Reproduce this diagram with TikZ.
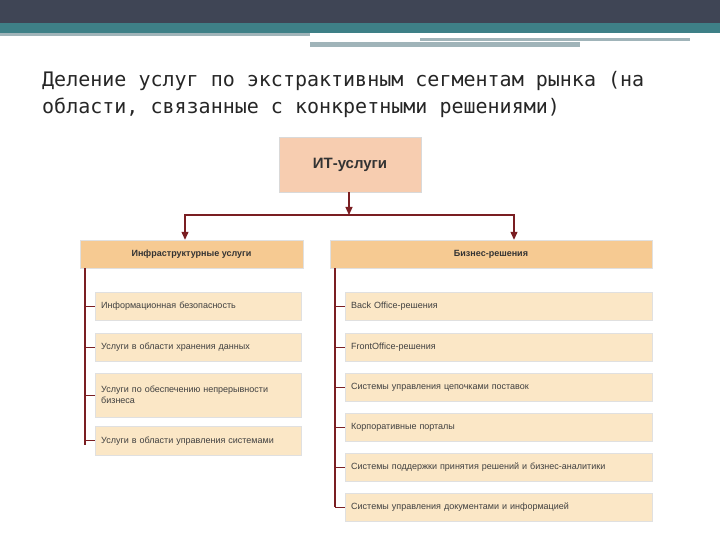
\documentclass[tikz,border=0pt]{standalone}
\usepackage{fontspec}
\setmainfont{DejaVu Sans}
\newfontfamily\titlefont{DejaVu Sans Mono}
\newfontfamily\boxfont{Liberation Sans}
\usetikzlibrary{arrows.meta}
\definecolor{lnc}{HTML}{7A1E22}
\definecolor{topc}{HTML}{F7CDB0}
\definecolor{hdc}{HTML}{F6CA92}
\definecolor{itc}{HTML}{FBE7C6}
\definecolor{barc}{HTML}{3F4555}
\definecolor{tealc}{HTML}{3E8087}
\definecolor{greyc}{HTML}{A0B4B9}
\tikzset{
  px/.style={x=1pt,y=-1pt},
  conn/.style={draw=lnc,line width=1.2pt},
  arr/.style={conn,-{Triangle[length=8pt,width=7pt]}},
  item/.style={fill=itc,draw=black!12,anchor=north west,inner xsep=6pt,align=left,font=\boxfont\fontsize{9}{11}\selectfont,text=black!75},
  litem/.style={item,text width=194pt},
  ritem/.style={item,text width=295pt,minimum height=28pt},
}
\begin{document}
\begin{tikzpicture}[px]
\useasboundingbox (0,0) rectangle (720,540);
\fill[white] (0,0) rectangle (720,540);
\fill[barc] (0,0) rectangle (720,23);
\fill[tealc] (0,23) rectangle (720,33);
\fill[greyc] (0,33) rectangle (310,36);
\fill[greyc] (310,42) rectangle (580,47);
\fill[greyc] (420,38) rectangle (690,41);
\node[anchor=west,font=\titlefont\fontsize{20}{27}\selectfont,text=black!85,align=left,inner sep=0] (title) at (42,94) {Деление услуг по экстрактивным сегментам рынка (на\\области, связанные с конкретными решениями)};
\node[fill=topc,draw=black!15,minimum width=142pt,minimum height=55pt,font=\boxfont\bfseries\fontsize{15}{18}\selectfont,text=black!80] (top) at (350,164.5) {ИТ-услуги};
\node[fill=hdc,draw=black!12,minimum width=223pt,minimum height=28pt,font=\boxfont\bfseries\fontsize{9}{11}\selectfont,text=black!80] (h1) at (191.5,254) {Инфраструктурные услуги};
\node[fill=hdc,draw=black!12,minimum width=322pt,minimum height=28pt,font=\boxfont\bfseries\fontsize{9}{11}\selectfont,text=black!80] (h2) at (491,254) {Бизнес-решения};
\coordinate (j) at (349,215);
\coordinate (ja) at (185,215);
\coordinate (jb) at (514,215);
\draw[arr] (top.south -| j) -- (j);
\draw[arr] (j) -- (ja) -- (ja |- h1.north);
\draw[arr] (j) -- (jb) -- (jb |- h2.north);
\node[litem,minimum height=28pt] (l1) at (95,292) {Информационная безопасность};
\node[litem,minimum height=28pt] (l2) at (95,333) {Услуги в области хранения данных};
\node[litem,minimum height=44pt] (l3) at (95,373) {Услуги по обеспечению непрерывности\\бизнеса};
\node[litem,minimum height=29pt] (l4) at (95,426) {Услуги в области управления системами};
\coordinate (ls) at (85,268);
\coordinate (le) at (85,445);
\draw[conn] (ls) -- (le);
\foreach \n in {l1,l2,l3,l4} \draw[conn] (\n.west -| ls) -- (\n.west);
\node[ritem] (r1) at (345,292) {Back Office-решения};
\node[ritem] (r2) at (345,333) {FrontOffice-решения};
\node[ritem] (r3) at (345,373) {Системы управления цепочками поставок};
\node[ritem] (r4) at (345,413) {Корпоративные порталы};
\node[ritem] (r5) at (345,453) {Системы поддержки принятия решений и бизнес-аналитики};
\node[ritem] (r6) at (345,493) {Системы управления документами и информацией};
\coordinate (rs) at (335,268);
\coordinate (re) at (335,507);
\draw[conn] (rs) -- (re);
\foreach \n in {r1,r2,r3,r4,r5,r6} \draw[conn] (\n.west -| rs) -- (\n.west);
\end{tikzpicture}
\end{document}
